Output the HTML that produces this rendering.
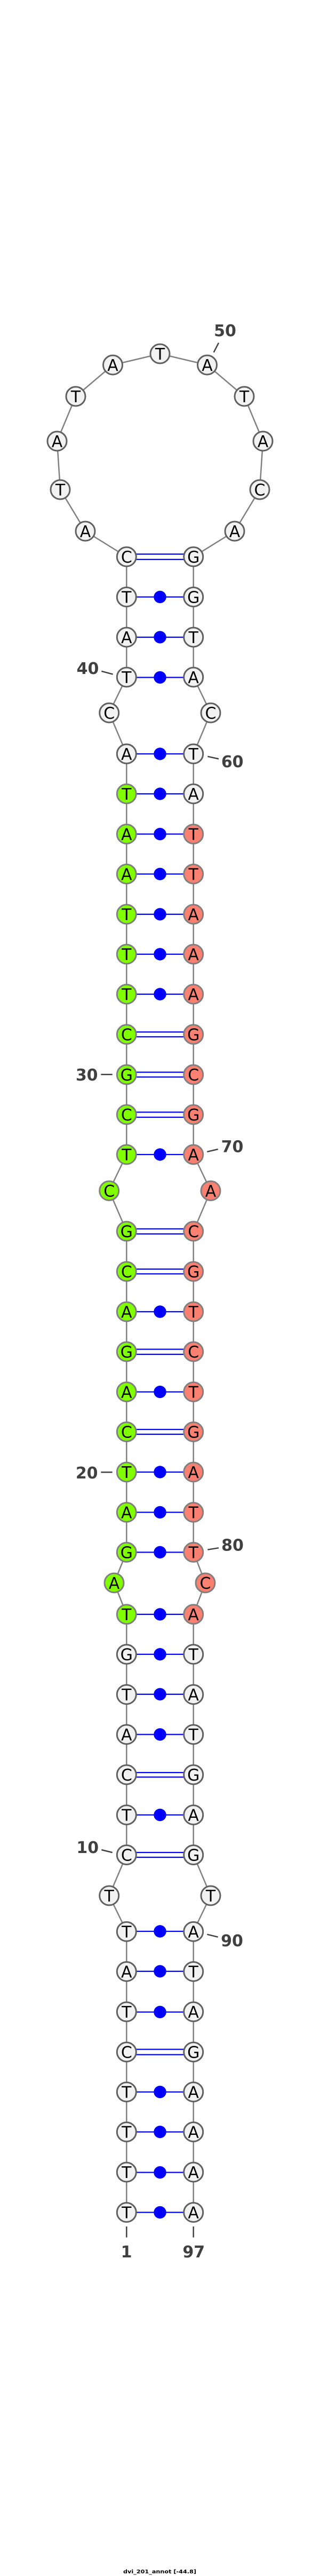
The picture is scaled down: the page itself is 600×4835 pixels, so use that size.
<!DOCTYPE html>
<html><head><meta charset="utf-8"><style>
html,body{margin:0;padding:0;background:#fff;width:600px;height:4835px;overflow:hidden}
svg{display:block}
.bb{fill:none;stroke:#808080;stroke-width:2.5}
.hb{stroke:#0000ff;stroke-width:2.3}
.d{fill:#0000ff}
.w{fill:#f2f2f2;stroke:#606060;stroke-width:3}
.g{fill:#7fff00;stroke:#808080;stroke-width:3}
.s{fill:#fa8072;stroke:#808080;stroke-width:3}
.n text,text.n{font-family:"DejaVu Sans",sans-serif;font-size:30px;text-anchor:middle;fill:#000}
.tk{stroke:#404040;stroke-width:2.5}
.lb{font-family:"DejaVu Sans",sans-serif;font-weight:bold;font-size:30px;text-anchor:middle;fill:#404040}
</style></head><body>
<svg width="600" height="4835" viewBox="0 0 600 4835" xmlns="http://www.w3.org/2000/svg">
<rect width="600" height="4835" fill="#fff"/>
<polyline class="bb" points="237.3,1045 160,997 113,919 107,828 142,744 211.5,685 300,664 388.5,685 458,744 493,828 487,919 440,997 362.7,1045"/>
<polyline class="bb" points="237.3,1045 237.3,1271 204.7,1338 237.3,1415 237.3,2167 204.7,2235 237.3,2311 237.3,2913 214,2971 237.3,3030 237.3,3481.5 204.7,3558 237.3,3625 237.3,4152.5"/>
<polyline class="bb" points="362.7,1045 362.7,1271 395,1338 362.7,1415 362.7,2167 395,2235 362.7,2311 362.7,2913 385,2971 362.7,3030 362.7,3481.5 395,3558 362.7,3625 362.7,4152.5"/>
<g class="hb">
<line x1="237" y1="1040" x2="363" y2="1040"/><line x1="237" y1="1050" x2="363" y2="1050"/>
<line x1="237" y1="1120.5" x2="363" y2="1120.5"/>
<line x1="237" y1="1196" x2="363" y2="1196"/>
<line x1="237" y1="1271.5" x2="363" y2="1271.5"/>
<line x1="237" y1="1415" x2="363" y2="1415"/>
<line x1="237" y1="1490" x2="363" y2="1490"/>
<line x1="237" y1="1565.5" x2="363" y2="1565.5"/>
<line x1="237" y1="1640.5" x2="363" y2="1640.5"/>
<line x1="237" y1="1716" x2="363" y2="1716"/>
<line x1="237" y1="1791" x2="363" y2="1791"/>
<line x1="237" y1="1866" x2="363" y2="1866"/>
<line x1="237" y1="1937" x2="363" y2="1937"/><line x1="237" y1="1946" x2="363" y2="1946"/>
<line x1="237" y1="2012.5" x2="363" y2="2012.5"/><line x1="237" y1="2021.5" x2="363" y2="2021.5"/>
<line x1="237" y1="2087.5" x2="363" y2="2087.5"/><line x1="237" y1="2097" x2="363" y2="2097"/>
<line x1="237" y1="2167" x2="363" y2="2167"/>
<line x1="237" y1="2306.5" x2="363" y2="2306.5"/><line x1="237" y1="2316" x2="363" y2="2316"/>
<line x1="237" y1="2382" x2="363" y2="2382"/><line x1="237" y1="2391" x2="363" y2="2391"/>
<line x1="237" y1="2462" x2="363" y2="2462"/>
<line x1="237" y1="2532.5" x2="363" y2="2532.5"/><line x1="237" y1="2542" x2="363" y2="2542"/>
<line x1="237" y1="2612.5" x2="363" y2="2612.5"/>
<line x1="237" y1="2683" x2="363" y2="2683"/><line x1="237" y1="2692" x2="363" y2="2692"/>
<line x1="237" y1="2763" x2="363" y2="2763"/>
<line x1="237" y1="2838.5" x2="363" y2="2838.5"/>
<line x1="237" y1="2913.5" x2="363" y2="2913.5"/>
<line x1="237" y1="3030" x2="363" y2="3030"/>
<line x1="237" y1="3105" x2="363" y2="3105"/>
<line x1="237" y1="3180" x2="363" y2="3180"/>
<line x1="237" y1="3255.5" x2="363" y2="3255.5"/>
<line x1="237" y1="3327" x2="363" y2="3327"/><line x1="237" y1="3335.5" x2="363" y2="3335.5"/>
<line x1="237" y1="3406.5" x2="363" y2="3406.5"/>
<line x1="237" y1="3477" x2="363" y2="3477"/><line x1="237" y1="3486" x2="363" y2="3486"/>
<line x1="237" y1="3625" x2="363" y2="3625"/>
<line x1="237" y1="3700" x2="363" y2="3700"/>
<line x1="237" y1="3776.5" x2="363" y2="3776.5"/>
<line x1="237" y1="3846.5" x2="363" y2="3846.5"/><line x1="237" y1="3856.5" x2="363" y2="3856.5"/>
<line x1="237" y1="3926.5" x2="363" y2="3926.5"/>
<line x1="237" y1="4001.5" x2="363" y2="4001.5"/>
<line x1="237" y1="4077.5" x2="363" y2="4077.5"/>
<line x1="237" y1="4152.5" x2="363" y2="4152.5"/>
</g>
<g class="d">
<circle cx="300" cy="1120.5" r="11.7"/><circle cx="300" cy="1196" r="11.7"/><circle cx="300" cy="1271.5" r="11.7"/><circle cx="300" cy="1415" r="11.7"/><circle cx="300" cy="1490" r="11.7"/><circle cx="300" cy="1565.5" r="11.7"/><circle cx="300" cy="1640.5" r="11.7"/><circle cx="300" cy="1716" r="11.7"/><circle cx="300" cy="1791" r="11.7"/><circle cx="300" cy="1866" r="11.7"/><circle cx="300" cy="2167" r="11.7"/><circle cx="300" cy="2462" r="11.7"/><circle cx="300" cy="2612.5" r="11.7"/><circle cx="300" cy="2763" r="11.7"/><circle cx="300" cy="2838.5" r="11.7"/><circle cx="300" cy="2913.5" r="11.7"/><circle cx="300" cy="3030" r="11.7"/><circle cx="300" cy="3105" r="11.7"/><circle cx="300" cy="3180" r="11.7"/><circle cx="300" cy="3255.5" r="11.7"/><circle cx="300" cy="3406.5" r="11.7"/><circle cx="300" cy="3625" r="11.7"/><circle cx="300" cy="3700" r="11.7"/><circle cx="300" cy="3776.5" r="11.7"/><circle cx="300" cy="3926.5" r="11.7"/><circle cx="300" cy="4001.5" r="11.7"/><circle cx="300" cy="4077.5" r="11.7"/><circle cx="300" cy="4152.5" r="11.7"/>
</g>
<g class="n">
<circle class="w" cx="300" cy="664" r="18"/><text x="300" y="675">T</text>
<circle class="w" cx="211.5" cy="685" r="18"/><text x="211.5" y="696">A</text>
<circle class="w" cx="388.5" cy="685" r="18"/><text x="388.5" y="696">A</text>
<circle class="w" cx="142" cy="744" r="18"/><text x="142" y="755">T</text>
<circle class="w" cx="458" cy="744" r="18"/><text x="458" y="755">T</text>
<circle class="w" cx="107" cy="828" r="18"/><text x="107" y="839">A</text>
<circle class="w" cx="493" cy="828" r="18"/><text x="493" y="839">A</text>
<circle class="w" cx="113" cy="919" r="18"/><text x="113" y="930">T</text>
<circle class="w" cx="487" cy="919" r="18"/><text x="487" y="930">C</text>
<circle class="w" cx="160" cy="997" r="18"/><text x="160" y="1008">A</text>
<circle class="w" cx="440" cy="997" r="18"/><text x="440" y="1008">A</text>
<circle class="w" cx="237.3" cy="1045" r="18"/><text x="237.3" y="1056">C</text>
<circle class="w" cx="362.7" cy="1045" r="18"/><text x="362.7" y="1056">G</text>
<circle class="w" cx="237.3" cy="1120.5" r="18"/><text x="237.3" y="1131.5">T</text>
<circle class="w" cx="362.7" cy="1120.5" r="18"/><text x="362.7" y="1131.5">G</text>
<circle class="w" cx="237.3" cy="1196" r="18"/><text x="237.3" y="1207">A</text>
<circle class="w" cx="362.7" cy="1196" r="18"/><text x="362.7" y="1207">T</text>
<circle class="w" cx="237.3" cy="1271" r="18"/><text x="237.3" y="1282">T</text>
<circle class="w" cx="362.7" cy="1271" r="18"/><text x="362.7" y="1282">A</text>
<circle class="w" cx="204.7" cy="1338" r="18"/><text x="204.7" y="1349">C</text>
<circle class="w" cx="395" cy="1338" r="18"/><text x="395" y="1349">C</text>
<circle class="w" cx="237.3" cy="1415" r="18"/><text x="237.3" y="1426">A</text>
<circle class="w" cx="362.7" cy="1415" r="18"/><text x="362.7" y="1426">T</text>
<circle class="g" cx="237.3" cy="1490" r="18"/><text x="237.3" y="1501">T</text>
<circle class="w" cx="362.7" cy="1490" r="18"/><text x="362.7" y="1501">A</text>
<circle class="g" cx="237.3" cy="1565.5" r="18"/><text x="237.3" y="1576.5">A</text>
<circle class="s" cx="362.7" cy="1565.5" r="18"/><text x="362.7" y="1576.5">T</text>
<circle class="g" cx="237.3" cy="1640.5" r="18"/><text x="237.3" y="1651.5">A</text>
<circle class="s" cx="362.7" cy="1640.5" r="18"/><text x="362.7" y="1651.5">T</text>
<circle class="g" cx="237.3" cy="1716" r="18"/><text x="237.3" y="1727">T</text>
<circle class="s" cx="362.7" cy="1716" r="18"/><text x="362.7" y="1727">A</text>
<circle class="g" cx="237.3" cy="1791" r="18"/><text x="237.3" y="1802">T</text>
<circle class="s" cx="362.7" cy="1791" r="18"/><text x="362.7" y="1802">A</text>
<circle class="g" cx="237.3" cy="1866" r="18"/><text x="237.3" y="1877">T</text>
<circle class="s" cx="362.7" cy="1866" r="18"/><text x="362.7" y="1877">A</text>
<circle class="g" cx="237.3" cy="1941.5" r="18"/><text x="237.3" y="1952.5">C</text>
<circle class="s" cx="362.7" cy="1941.5" r="18"/><text x="362.7" y="1952.5">G</text>
<circle class="g" cx="237.3" cy="2017" r="18"/><text x="237.3" y="2028">G</text>
<circle class="s" cx="362.7" cy="2017" r="18"/><text x="362.7" y="2028">C</text>
<circle class="g" cx="237.3" cy="2092" r="18"/><text x="237.3" y="2103">C</text>
<circle class="s" cx="362.7" cy="2092" r="18"/><text x="362.7" y="2103">G</text>
<circle class="g" cx="237.3" cy="2167" r="18"/><text x="237.3" y="2178">T</text>
<circle class="s" cx="362.7" cy="2167" r="18"/><text x="362.7" y="2178">A</text>
<circle class="g" cx="204.7" cy="2235" r="18"/><text x="204.7" y="2246">C</text>
<circle class="s" cx="395" cy="2235" r="18"/><text x="395" y="2246">A</text>
<circle class="g" cx="237.3" cy="2311" r="18"/><text x="237.3" y="2322">G</text>
<circle class="s" cx="362.7" cy="2311" r="18"/><text x="362.7" y="2322">C</text>
<circle class="g" cx="237.3" cy="2386.5" r="18"/><text x="237.3" y="2397.5">C</text>
<circle class="s" cx="362.7" cy="2386.5" r="18"/><text x="362.7" y="2397.5">G</text>
<circle class="g" cx="237.3" cy="2462" r="18"/><text x="237.3" y="2473">A</text>
<circle class="s" cx="362.7" cy="2462" r="18"/><text x="362.7" y="2473">T</text>
<circle class="g" cx="237.3" cy="2537" r="18"/><text x="237.3" y="2548">G</text>
<circle class="s" cx="362.7" cy="2537" r="18"/><text x="362.7" y="2548">C</text>
<circle class="g" cx="237.3" cy="2612.5" r="18"/><text x="237.3" y="2623.5">A</text>
<circle class="s" cx="362.7" cy="2612.5" r="18"/><text x="362.7" y="2623.5">T</text>
<circle class="g" cx="237.3" cy="2687.5" r="18"/><text x="237.3" y="2698.5">C</text>
<circle class="s" cx="362.7" cy="2687.5" r="18"/><text x="362.7" y="2698.5">G</text>
<circle class="g" cx="237.3" cy="2763" r="18"/><text x="237.3" y="2774">T</text>
<circle class="s" cx="362.7" cy="2763" r="18"/><text x="362.7" y="2774">A</text>
<circle class="g" cx="237.3" cy="2838.5" r="18"/><text x="237.3" y="2849.5">A</text>
<circle class="s" cx="362.7" cy="2838.5" r="18"/><text x="362.7" y="2849.5">T</text>
<circle class="g" cx="237.3" cy="2913.5" r="18"/><text x="237.3" y="2924.5">G</text>
<circle class="s" cx="362.7" cy="2913.5" r="18"/><text x="362.7" y="2924.5">T</text>
<circle class="g" cx="214" cy="2971" r="18"/><text x="214" y="2982">A</text>
<circle class="s" cx="385" cy="2971" r="18"/><text x="385" y="2982">C</text>
<circle class="g" cx="237.3" cy="3030" r="18"/><text x="237.3" y="3041">T</text>
<circle class="s" cx="362.7" cy="3030" r="18"/><text x="362.7" y="3041">A</text>
<circle class="w" cx="237.3" cy="3105" r="18"/><text x="237.3" y="3116">G</text>
<circle class="w" cx="362.7" cy="3105" r="18"/><text x="362.7" y="3116">T</text>
<circle class="w" cx="237.3" cy="3180.5" r="18"/><text x="237.3" y="3191.5">T</text>
<circle class="w" cx="362.7" cy="3180.5" r="18"/><text x="362.7" y="3191.5">A</text>
<circle class="w" cx="237.3" cy="3255.5" r="18"/><text x="237.3" y="3266.5">A</text>
<circle class="w" cx="362.7" cy="3255.5" r="18"/><text x="362.7" y="3266.5">T</text>
<circle class="w" cx="237.3" cy="3331" r="18"/><text x="237.3" y="3342">C</text>
<circle class="w" cx="362.7" cy="3331" r="18"/><text x="362.7" y="3342">G</text>
<circle class="w" cx="237.3" cy="3406.5" r="18"/><text x="237.3" y="3417.5">T</text>
<circle class="w" cx="362.7" cy="3406.5" r="18"/><text x="362.7" y="3417.5">A</text>
<circle class="w" cx="237.3" cy="3481.5" r="18"/><text x="237.3" y="3492.5">C</text>
<circle class="w" cx="362.7" cy="3481.5" r="18"/><text x="362.7" y="3492.5">G</text>
<circle class="w" cx="204.7" cy="3558" r="18"/><text x="204.7" y="3569">T</text>
<circle class="w" cx="395" cy="3558" r="18"/><text x="395" y="3569">T</text>
<circle class="w" cx="237.3" cy="3625.5" r="18"/><text x="237.3" y="3636.5">T</text>
<circle class="w" cx="362.7" cy="3625.5" r="18"/><text x="362.7" y="3636.5">A</text>
<circle class="w" cx="237.3" cy="3700.5" r="18"/><text x="237.3" y="3711.5">A</text>
<circle class="w" cx="362.7" cy="3700.5" r="18"/><text x="362.7" y="3711.5">T</text>
<circle class="w" cx="237.3" cy="3776" r="18"/><text x="237.3" y="3787">T</text>
<circle class="w" cx="362.7" cy="3776" r="18"/><text x="362.7" y="3787">A</text>
<circle class="w" cx="237.3" cy="3851.5" r="18"/><text x="237.3" y="3862.5">C</text>
<circle class="w" cx="362.7" cy="3851.5" r="18"/><text x="362.7" y="3862.5">G</text>
<circle class="w" cx="237.3" cy="3926.5" r="18"/><text x="237.3" y="3937.5">T</text>
<circle class="w" cx="362.7" cy="3926.5" r="18"/><text x="362.7" y="3937.5">A</text>
<circle class="w" cx="237.3" cy="4001.5" r="18"/><text x="237.3" y="4012.5">T</text>
<circle class="w" cx="362.7" cy="4001.5" r="18"/><text x="362.7" y="4012.5">A</text>
<circle class="w" cx="237.3" cy="4077" r="18"/><text x="237.3" y="4088">T</text>
<circle class="w" cx="362.7" cy="4077" r="18"/><text x="362.7" y="4088">A</text>
<circle class="w" cx="237.3" cy="4152.5" r="18"/><text x="237.3" y="4163.5">T</text>
<circle class="w" cx="362.7" cy="4152.5" r="18"/><text x="362.7" y="4163.5">A</text>
</g>
<g class="tk">
<line x1="400.7" y1="661.4" x2="410" y2="643.4"/>
<line x1="190.3" y1="1259.8" x2="211.7" y2="1265.6"/>
<line x1="389.3" y1="1419.8" x2="410" y2="1424.4"/>
<line x1="189.3" y1="2016.7" x2="210.7" y2="2016.7"/>
<line x1="388.3" y1="2161.8" x2="408.7" y2="2157"/>
<line x1="189.3" y1="2763.3" x2="210.7" y2="2763.3"/>
<line x1="389.3" y1="2908.7" x2="410" y2="2905.3"/>
<line x1="190.3" y1="3472" x2="210.7" y2="3477"/>
<line x1="388.3" y1="3630.7" x2="408.7" y2="3635.7"/>
<line x1="237.3" y1="4179" x2="237.3" y2="4199.5"/>
<line x1="362.7" y1="4179" x2="362.7" y2="4199.5"/>
</g>
<g class="lb">
<text x="422" y="631">50</text>
<text x="164.5" y="1265">40</text>
<text x="435.7" y="1440">60</text>
<text x="162.7" y="2028">30</text>
<text x="435.5" y="2162.5">70</text>
<text x="162.7" y="2775">20</text>
<text x="436" y="2910.5">80</text>
<text x="164.3" y="3478">10</text>
<text x="435" y="3653">90</text>
<text x="237" y="4237">1</text>
<text x="363.3" y="4237">97</text>
</g>
<text x="231" y="4830" font-family="'DejaVu Sans',sans-serif" font-weight="bold" font-size="10" textLength="137" lengthAdjust="spacingAndGlyphs" fill="#000">dvi_201_annot [-44.8]</text>
</svg>
</body></html>
